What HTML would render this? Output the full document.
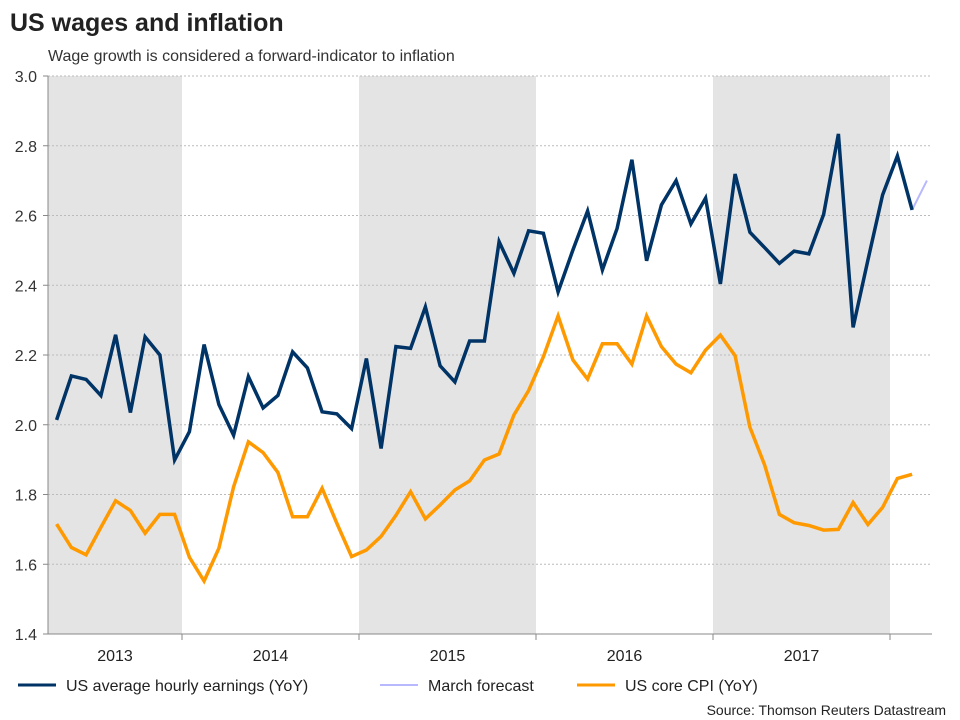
<!DOCTYPE html>
<html><head><meta charset="utf-8"><style>
body{margin:0;background:#fff;font-family:"Liberation Sans",sans-serif;}
svg{display:block}
</style></head><body>
<svg width="960" height="720" id="c" font-family="Liberation Sans, sans-serif">
<text x="10" y="31" font-size="25" font-weight="bold" fill="#222">US wages and inflation</text>
<text x="48" y="61" font-size="16" fill="#333">Wage growth is considered a forward-indicator to inflation</text>
<g id="shade"></g><g id="grid"></g><g id="axes"></g><g id="series"></g>
<g>
<line x1="18" y1="685" x2="56" y2="685" stroke="#003366" stroke-width="3"/>
<text x="66" y="691" font-size="16" fill="#222">US average hourly earnings (YoY)</text>
<line x1="380" y1="685" x2="418" y2="685" stroke="#b8b8ff" stroke-width="2"/>
<text x="428" y="691" font-size="16" fill="#222">March forecast</text>
<line x1="577" y1="685" x2="615" y2="685" stroke="#ff9900" stroke-width="3"/>
<text x="625" y="691" font-size="16" fill="#222">US core CPI (YoY)</text>
</g>
<text x="946" y="715" font-size="14" fill="#222" text-anchor="end">Source: Thomson Reuters Datastream</text>
</svg>
<script>
const years = ["2013","2014","2015","2016","2017"];
const yTicks = [1.4,1.6,1.8,2.0,2.2,2.4,2.6,2.8,3.0];
const startMonth = 3; // April 2013, months since Jan 2013
const wages = [2.014,2.140,2.130,2.084,2.258,2.035,2.252,2.200,1.899,
1.980,2.230,2.058,1.970,2.138,2.048,2.084,2.209,2.163,2.037,2.031,1.989,
2.190,1.932,2.224,2.219,2.338,2.169,2.123,2.240,2.240,2.525,2.434,2.556,
2.549,2.381,2.501,2.613,2.444,2.563,2.760,2.470,2.630,2.700,2.576,2.650,
2.404,2.719,2.552,2.508,2.463,2.498,2.490,2.603,2.834,2.279,2.472,2.659,
2.771,2.616];
const forecast = [2.616,2.700];
const cpi = [1.715,1.648,1.627,1.706,1.782,1.754,1.689,1.743,1.743,
1.620,1.552,1.646,1.822,1.951,1.920,1.863,1.736,1.736,1.818,1.717,1.622,
1.641,1.680,1.740,1.808,1.730,1.770,1.813,1.839,1.899,1.916,2.028,2.098,
2.195,2.312,2.186,2.131,2.232,2.232,2.174,2.312,2.224,2.174,2.149,2.214,
2.257,2.198,1.993,1.885,1.743,1.719,1.711,1.698,1.700,1.777,1.714,1.763,
1.846,1.858];
const NS="http://www.w3.org/2000/svg";
const L=48,R=932,T=76,B=634,M0=5,MW=14.75;
const y=v=>B-(v-1.4)/(1.6)*(B-T);
const xm=m=>M0+(m+0.5)*MW;
const xb=m=>Math.max(L,M0+m*MW);
function mk(p,t,a){const e=document.createElementNS(NS,t);for(const k in a)e.setAttribute(k,a[k]);document.getElementById(p).appendChild(e);return e;}
years.forEach((yr,i)=>{
  if(i%2===0){const r=mk('shade','rect',{x:xb(i*12),y:T,width:Math.min(R,xb(i*12+12))-xb(i*12),height:B-T,fill:'#e4e4e4'});
  
  }
  const t=mk('axes','text',{x:(xb(i*12)+xb(i*12+12))/2,y:661,'font-size':16,fill:'#222','text-anchor':'middle'});
  t.textContent=yr;
  
  
  mk('axes','line',{x1:xb(i*12+12),y1:B,x2:xb(i*12+12),y2:B+6,stroke:'#888'});
});
yTicks.forEach(v=>{
  if(v>1.4){const g=mk('grid','line',{x1:L,y1:y(v),x2:R,y2:y(v),stroke:'#bbb','stroke-dasharray':'2,2'});
  
  }
  mk('axes','line',{x1:L-5,y1:y(v),x2:L,y2:y(v),stroke:'#888'});
  const t=mk('axes','text',{x:37,y:y(v)+6,'font-size':16,fill:'#333','text-anchor':'end'});
  t.textContent=v.toFixed(1);
  
  
});
const ax=mk('axes','line',{x1:L,y1:T,x2:L,y2:B,stroke:'#888'});


const bx=mk('axes','line',{x1:L,y1:B,x2:R,y2:B,stroke:'#888'});


function line(arr,off,col,w,name){
  const pts=arr.map((v,i)=>xm(off+i).toFixed(1)+','+y(v).toFixed(1)).join(' ');
  const p=mk('series','polyline',{points:pts,fill:'none',stroke:col,'stroke-width':w,'stroke-linejoin':'miter'});
  
  
}
line(forecast,startMonth+wages.length-1,'#b8b8ff',2,'forecast-line');
line(cpi,startMonth,'#ff9900',3.5,'cpi-line');
line(wages,startMonth,'#003366',3.5,'wages-line');
</script>
</body></html>
